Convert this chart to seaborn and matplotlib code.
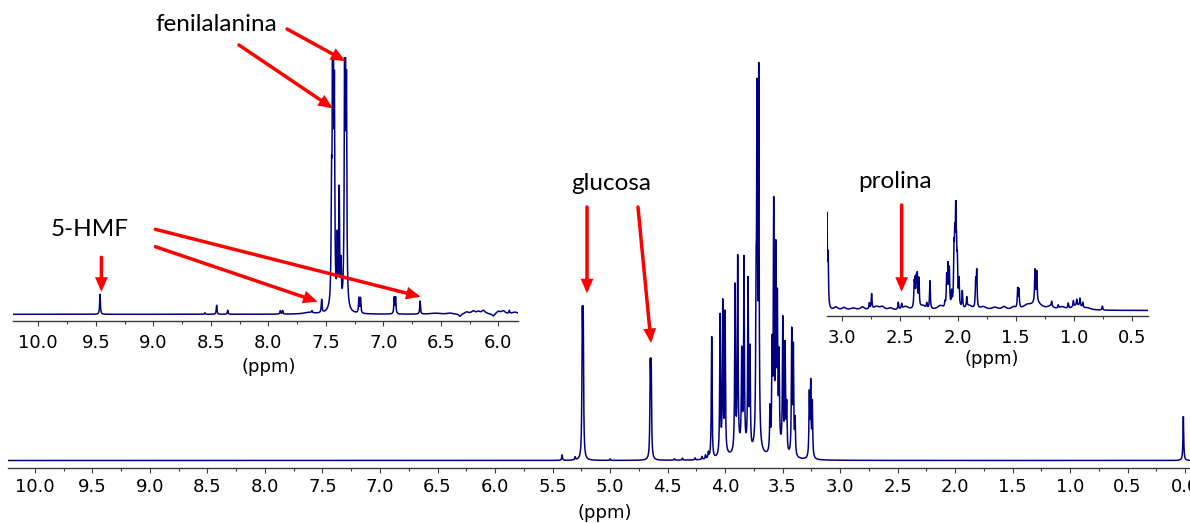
import numpy as np
import pandas as pd
import matplotlib
matplotlib.use("Agg")
import matplotlib.pyplot as plt
from matplotlib.ticker import MultipleLocator, FormatStrFormatter
import seaborn as sns

# ---------------- data (ppm, intensity a.u.) ----------------
# full spectrum
main_peak_ppm = [5.417, 5.304, 5.00, 5.241, 5.233, 4.650, 4.642, 4.44, 4.37, 4.26, 4.20, 4.17, 4.145,
                 4.116, 4.043, 4.020, 4.000, 3.913, 3.890, 3.855, 3.835, 3.800, 3.783,
                 3.730, 3.722, 3.707, 3.609, 3.591, 3.577, 3.559, 3.545, 3.530, 3.498,
                 3.478, 3.464, 3.420, 3.406, 3.391, 3.267, 3.255, 3.241, 0.015]
main_peak_height = [5.5, 3, 1.5, 130, 130, 86, 86, 1.5, 2, 2, 3, 4, 6,
                    122, 140, 150, 140, 165, 190, 92, 188, 168, 98,
                    128, 325, 365, 42, 98, 240, 190, 140, 88, 130,
                    105, 46, 122, 105, 34, 62, 72, 54, 44]
main_hump_ppm = [3.86, 3.72, 3.53, 3.98]
main_hump_height = [10, 8, 8, 2]
main_hump_width = [0.05, 0.04, 0.05, 0.04]

# aromatic inset (10.2 - 5.8 ppm)
aro_peak_ppm = [9.463, 8.55, 8.449, 8.353, 7.895, 7.875, 7.62, 7.536,
                7.45, 7.438, 7.425, 7.40, 7.383, 7.368, 7.333, 7.32,
                7.212, 7.198, 6.905, 6.893, 6.68, 5.904]
aro_peak_height = [20, 1.5, 9, 4, 3.5, 3.5, 2, 13,
                   95, 600, 190, 65, 115, 40, 600, 195,
                   15, 15, 16, 16, 13, 3]
aro_hump_ppm = [7.65, 6.55, 6.42, 6.333, 6.275, 6.217, 6.174, 6.13, 6.043, 6.0, 5.957, 5.855]
aro_hump_height = [1.5, 1.0, 1.0, -2.5, 2.0, 3.0, 2.0, 3.5, -2.5, 2.5, 3.0, 2.0]
aro_hump_width = [0.05, 0.05, 0.03, 0.012, 0.02, 0.02, 0.015, 0.02, 0.012, 0.02, 0.02, 0.03]

# aliphatic inset (3.1 - 0.4 ppm)
ali_peak_ppm = [3.127, 3.117, 2.762, 2.742, 2.512, 2.483, 2.375, 2.368, 2.357, 2.348, 2.334,
                2.267, 2.239, 2.11, 2.095, 2.084, 2.072, 2.052, 2.032, 2.025, 2.017, 2.01,
                2.003, 1.989, 1.96, 1.922, 1.845, 1.836, 1.483, 1.472, 1.334, 1.319,
                1.19, 1.133, 1.047, 1.003, 0.974, 0.946, 0.922, 0.753]
ali_peak_height = [92, 48, 6, 15, 7, 5, 22, 24, 26, 30, 28,
                   5, 28, 5, 30, 40, 37, 14, 50, 55, 84, 45,
                   38, 26, 17, 10, 26, 36, 19, 18, 32, 30,
                   5, 3, 5, 6, 6, 8, 5, 4]
ali_hump_ppm = [3.05, 2.98, 2.9, 2.82, 2.7, 2.65, 2.58, 2.45, 2.3, 2.15, 1.9, 1.78,
                1.68, 1.6, 1.52, 1.4, 1.32, 1.2, 1.1, 0.97, 0.88]
ali_hump_height = [3, 2.5, 2, 3, 3.5, 3, 2, 3.5, 4, 4, 4, 3,
                   2.5, 3, 2.5, 4, 7, 3, 2.5, 4.5, 1.5]
ali_hump_width = [0.02, 0.02, 0.03, 0.02, 0.03, 0.02, 0.02, 0.03, 0.03, 0.03, 0.03, 0.03,
                  0.03, 0.02, 0.02, 0.04, 0.05, 0.03, 0.03, 0.05, 0.03]

labels_text = ["fenilalanina", "5-HMF", "glucosa", "prolina"]


def spectrum(lo, hi, ppm, height, w, hump_ppm, hump_h, hump_w, step=0.0004):
    x = np.arange(hi, lo, -step)
    y = np.zeros_like(x)
    for c, h in zip(ppm, height):
        y += h * w * w / ((x - c) ** 2 + w * w)
    for c, h, ww in zip(hump_ppm, hump_h, hump_w):
        y += h * ww * ww / ((x - c) ** 2 + ww * ww)
    return pd.DataFrame({"ppm": x, "intensity": y})


df_main = spectrum(-0.06, 10.25, main_peak_ppm, main_peak_height, 0.0038,
                   main_hump_ppm, main_hump_height, main_hump_width)
df_aro = spectrum(5.82, 10.22, aro_peak_ppm, aro_peak_height, 0.0038,
                  aro_hump_ppm, aro_hump_height, aro_hump_width)
df_ali = spectrum(0.356, 3.129, ali_peak_ppm, ali_peak_height, 0.0038,
                  ali_hump_ppm, ali_hump_height, ali_hump_width)

# ---------------- styling ----------------
sns.set_theme(style="white")
plt.rcParams["font.family"] = ["DejaVu Sans"]
NAVY = "#000080"
RED = "#FF0000"
AXC = "#3a3a3a"

W, H = 1190, 523
fig = plt.figure(figsize=(W / 100, H / 100), dpi=100)


def px_axes(x0, x1, ytop, ybot, z):
    return fig.add_axes([x0 / W, 1 - ybot / H, (x1 - x0) / W, (ybot - ytop) / H], zorder=z)


ax = px_axes(8.3, 1190, 55, 468.3, 1)
ax1 = px_axes(13.3, 518.3, 57, 320.7, 2)
ax2 = px_axes(826.7, 1148.3, 200, 315.5, 2)

for a, d in [(ax, df_main), (ax1, df_aro), (ax2, df_ali)]:
    sns.lineplot(data=d, x="ppm", y="intensity", ax=a, color=NAVY, linewidth=1.1,
                 estimator=None, sort=False)

ax.set_xlim(10.232, -0.043)
ax.set_ylim(-7.8, 405.5)
ax1.set_xlim(10.217, 5.826)
ax1.set_ylim(-6.4, 257.3)
ax2.set_xlim(3.129, 0.357)
ax2.set_ylim(-5.0, 110.5)

for a, pad in [(ax, 3.7), (ax1, 6.1), (ax2, 6.1)]:
    a.set_facecolor("none")
    for s in ["top", "left", "right"]:
        a.spines[s].set_visible(False)
    a.spines["bottom"].set_color(AXC)
    a.spines["bottom"].set_linewidth(1.0)
    a.set_yticks([])
    a.set_ylabel("")
    a.xaxis.set_major_locator(MultipleLocator(0.5))
    a.xaxis.set_minor_locator(MultipleLocator(0.25))
    a.xaxis.set_major_formatter(FormatStrFormatter("%.1f"))
    a.tick_params(axis="x", which="major", direction="out", length=3.6, width=0.8,
                  color=AXC, labelsize=13, labelcolor="black", pad=pad, bottom=True)
    a.tick_params(axis="x", which="minor", direction="out", length=1.9, width=0.8,
                  color=AXC, bottom=True)
    a.set_xlabel("(ppm)", fontsize=13, color="black")

ax.xaxis.set_label_coords((605 - 8.3) / (1190 - 8.3), (468.3 - 504) / 413.3)
ax1.xaxis.set_label_coords((268.7 - 13.3) / 505, (320.7 - 358) / 263.7)
ax2.xaxis.set_label_coords((991.7 - 826.7) / 321.6, (315.5 - 350) / 115.5)

# ---------------- annotations ----------------
TXT = dict(fontfamily=["Lato", "DejaVu Sans"], fontsize=17.5, color="black",
           ha="center", va="center", clip_on=False, zorder=10)
ARW = dict(arrowstyle="-|>,head_length=0.61,head_width=0.27", mutation_scale=10,
           lw=2.5, color=RED, shrinkA=0, shrinkB=0, joinstyle="miter")


def arrow(a, tail, tip):
    a.annotate("", xy=tip, xytext=tail, xycoords="data", textcoords="data",
               arrowprops=ARW, annotation_clip=False, zorder=9)


ax1.text(8.455, 289.3, labels_text[0], **TXT)
arrow(ax1, (7.837, 285.3), (7.330, 253.3))
arrow(ax1, (8.255, 269.3), (7.439, 206.0))
ax1.text(9.555, 84.3, labels_text[1], **TXT)
arrow(ax1, (9.451, 57.0), (9.451, 22.6))
arrow(ax1, (8.982, 85.0), (6.676, 17.6))
arrow(ax1, (8.982, 67.6), (7.571, 12.6))

ax.text(4.985, 277.2, labels_text[2], **TXT)
arrow(ax, (5.20, 253.5), (5.20, 167.2))
arrow(ax, (4.757, 253.5), (4.643, 117.5))

ax2.text(2.541, 128.5, labels_text[3], **TXT)
arrow(ax2, (2.483, 105.5), (2.483, 18.8))

fig.savefig("out.png", dpi=100)
